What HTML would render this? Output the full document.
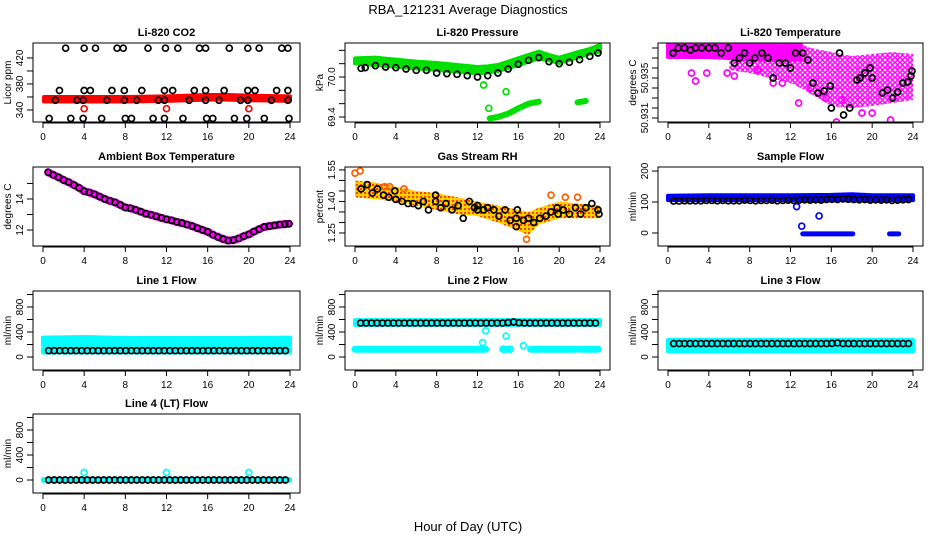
<!DOCTYPE html>
<html><head><meta charset="utf-8"><style>
html,body{margin:0;padding:0;background:#fff}
svg{display:block;font-family:"Liberation Sans",sans-serif}
</style></head><body>
<svg id="c" width="936" height="540" viewBox="0 0 936 540" xmlns="http://www.w3.org/2000/svg">
<defs>
<pattern id="magpat" width="5" height="5" patternUnits="userSpaceOnUse"><circle cx="2.5" cy="2.5" r="1.8" fill="none" stroke="#ff00ff" stroke-width="1.5"/></pattern>
<pattern id="rhpat" width="4" height="4" patternUnits="userSpaceOnUse"><rect width="4" height="4" fill="#ffd000"/><rect width="2" height="2" fill="#ff4000"/></pattern>
</defs>
<text x="468" y="14" text-anchor="middle" font-size="13">RBA_121231  Average Diagnostics</text>
<text x="468" y="531" text-anchor="middle" font-size="13">Hour of Day (UTC)</text>
</svg>
<script>
// ---------- data ----------
const xTicks=[0,4,8,12,16,20,24];
// CO2
const co2BandHours=[0.1,4,8,12,16,18,20,24];
const co2BandLo=[353,353,353,354,356,356,355,354];
const co2BandHi=[360,360,360,361,363,363,362,361];
const co2BlackHours=[2.2,4.0,5.1,7.2,7.8,10.2,11.9,13.1,15.2,15.8,18.1,19.9,21.0,23.2,23.8,
 1.6,4.0,4.6,6.7,7.9,9.6,11.8,12.6,14.7,15.8,17.6,19.9,20.6,22.7,23.8,
 1.2,3.3,3.9,6.2,7.9,9.1,11.2,11.8,14.2,15.8,17.1,19.2,19.9,22.2,23.8,
 0.6,2.7,3.9,5.7,8.0,8.6,10.7,11.8,13.6,15.9,16.5,18.6,19.8,21.5,23.9];
const co2BlackVals=[435,435,435,435,435,435,435,435,435,435,435,435,435,435,435,
 370,370,370,370,370,370,370,370,370,370,370,370,370,370,370,
 355,355,355,355,355,355,355,355,355,355,355,355,355,355,355,
 327,327,327,327,327,327,327,327,327,327,327,327,327,327,327];
const co2RedHours=[4,12,20];
const co2RedVals=[342,342,342];
// Pressure
const prBandHours=[0,2,4,6,8,10,12,13,14,16,18,19,20,22,23,24];
const prBandHi=[70.28,70.29,70.26,70.23,70.21,70.18,70.15,70.16,70.18,70.28,70.38,70.33,70.29,70.38,70.42,70.48];
const prBandLo=[70.205,70.18,70.155,70.13,70.105,70.08,70.055,70.07,70.09,70.18,70.28,70.25,70.21,70.3,70.35,70.38];
const prBlackHours=[0.6,1,2,3,4,5,6,7,8,9,10,11,12,13,14,15,16,17,18,19,20,21,22,23,23.8];
const prBlackVals=[70.13,70.14,70.17,70.15,70.14,70.12,70.1,70.1,70.06,70.05,70.04,70.02,70.0,70.02,70.06,70.12,70.19,70.25,70.29,70.23,70.2,70.22,70.26,70.31,70.36];
const prLowHours=[13.2,14,15,16,17,18];
const prLowVals=[69.38,69.4,69.45,69.53,69.6,69.63];
const prLow2Hours=[21.8,22.6];
const prLow2Vals=[69.62,69.64];
const prOutHours=[12.6,13.1,14.8];
const prOutVals=[69.88,69.53,69.78];
// Li-820 temperature
const tSolidHours=[0,4,8,10,12,13];
const tSolidHi=[50.9386,50.9386,50.9386,50.9386,50.9386,50.9386];
const tSolidLo=[50.9371,50.9371,50.9369,50.9368,50.9368,50.9369];
const tScatHours=[6,8,10,12,13,14,16,18,20,22,24];
const tScatHi=[50.9378,50.9378,50.9378,50.9384,50.9384,50.9380,50.9376,50.9372,50.9374,50.9376,50.9374];
const tScatLo=[50.9358,50.9355,50.9350,50.9345,50.9340,50.9334,50.9322,50.9320,50.9322,50.9325,50.9328];
const tMagHours=[2.7,12.8,16.5,21.8,19,20,2.3,3.8,5.8,6.5,8.8,10.3,11.2,14,15.5,17];
const tMagVals=[50.9347,50.9325,50.9306,50.9308,50.9315,50.9315,50.9355,50.9355,50.9355,50.9352,50.9358,50.9345,50.9345,50.9340,50.9330,50.9328];
const tBlackHours=[0.5,1,1.6,2.2,2.7,3.3,4,4.6,5.2,5.9,6.5,7,7.5,8,8.5,9.2,9.8,10.3,10.9,11.5,12,12.5,13.2,13.7,14.2,14.7,15.3,15.9,16,16.8,17.2,17.8,18.5,18.8,19.3,19.8,20,21,21.5,22,22.5,23,23.5,23.8,23.9];
const tBlackVals=[50.9375,50.938,50.938,50.9378,50.938,50.938,50.938,50.938,50.9375,50.938,50.9365,50.937,50.9375,50.9365,50.937,50.9375,50.937,50.935,50.9365,50.9365,50.936,50.9375,50.9375,50.9368,50.9345,50.9335,50.9337,50.9342,50.932,50.9375,50.9313,50.932,50.9348,50.935,50.9355,50.936,50.935,50.9335,50.9338,50.933,50.9336,50.9345,50.9346,50.9352,50.9357];
// Ambient box temperature
const ambHours=[0.5,1,1.5,2,2.5,3,3.5,4,4.5,5,5.5,6,6.5,7,7.5,8,8.5,9,9.5,10,10.5,11,11.5,12,12.5,13,13.5,14,14.5,15,15.5,16,16.5,17,17.5,18,18.5,19,19.5,20,20.5,21,21.5,22,22.5,23,23.5,23.9];
const ambVals=[15.72,15.55,15.4,15.22,15.08,14.9,14.72,14.5,14.42,14.3,14.15,14.0,13.88,13.78,13.62,13.45,13.4,13.3,13.18,13.05,12.98,12.88,12.78,12.69,12.62,12.52,12.45,12.35,12.25,12.12,12.0,11.89,11.7,11.55,11.42,11.32,11.35,11.45,11.6,11.72,11.9,12.05,12.2,12.25,12.3,12.35,12.38,12.4];
// Gas stream RH
const rhBandHours=[0,2,4,6,8,10,12,14,16,17,18,20,22,24];
const rhBandHi=[1.50,1.49,1.47,1.45,1.44,1.42,1.40,1.38,1.36,1.35,1.37,1.40,1.39,1.38];
const rhBandLo=[1.42,1.41,1.40,1.38,1.36,1.34,1.33,1.30,1.26,1.24,1.29,1.32,1.32,1.32];
const rhOutHours=[0,0.5,16.8,19.2,20.6,21.8,2.9,3.4,4.8];
const rhOutVals=[1.535,1.545,1.22,1.43,1.42,1.42,1.47,1.47,1.46];
const rhBlackHours=[0.6,1.2,1.7,2.2,2.8,3.3,3.9,4.0,4.6,5.2,5.7,6.2,6.7,7.2,7.9,7.9,8.4,8.9,9.5,10.1,10.6,11.2,11.7,12,12,12.6,13,13.6,14.1,14.7,15.2,15.8,15.9,15.8,16.5,17,17.5,18.1,18.7,19.2,19.8,19.9,20.4,21,21.6,22.1,22.6,23.2,23.8,23.9];
const rhBlackVals=[1.46,1.48,1.44,1.46,1.43,1.42,1.45,1.41,1.40,1.39,1.39,1.38,1.40,1.36,1.40,1.43,1.37,1.39,1.36,1.38,1.32,1.40,1.37,1.38,1.36,1.36,1.37,1.36,1.33,1.36,1.31,1.32,1.36,1.28,1.31,1.32,1.30,1.32,1.33,1.35,1.37,1.34,1.36,1.34,1.37,1.34,1.37,1.39,1.36,1.34];
// Sample flow
const sfBandHours=[0,4,8,12,16,18,20,24];
const sfBandHi=[120,122,122,122,123,125,122,122];
const sfBandLo=[106,106,106,106,106,106,106,106];
const sfLowHours=[13.2,18.1];
const sfLowVals=[-3,-3];
const sfLow2Hours=[21.7,22.6];
const sfLow2Vals=[-3,-3];
const sfOutHours=[12.6,13.1,14.8];
const sfOutVals=[85,22,55];
// black-circle series at ~half-hour cadence (44 samples)
const sfBlack=[103,103,104,104,104,104,105,105,104,105,104,104,104,106,105,104,105,105,106,104,105,106,105,106,107,106,107,106,108,109,108,110,109,108,107,108,106,107,106,107,105,106,107,108];
const l1Black=[101,101,101,101,101,101,101,101,101,101,101,101,101,101,101,101,101,101,101,101,101,101,101,101,101,101,101,101,101,101,101,101,101,101,101,101,101,101,101,101,101,101,101,101];
const l2Black=[543,543,543,543,543,543,543,543,543,543,543,543,543,543,543,543,543,543,543,543,543,543,543,543,543,543,543,550,560,548,543,543,543,543,543,543,543,543,543,543,543,543,543,543];
const l3Black=[215,215,215,215,215,215,215,215,215,215,215,215,215,215,215,215,215,215,215,215,215,215,215,215,215,215,215,215,215,218,225,215,215,215,215,215,215,215,215,215,215,215,215,215];
const l4Black=[0,0,0,0,0,0,0,0,0,0,0,0,0,0,0,0,0,0,0,0,0,0,0,0,0,0,0,0,0,0,0,0,0,0,0,0,0,0,0,0,0,0,0,0];
// Line flows (cyan)
const l1UpHours=[0,4,8,12,16,20,24];
const l1UpHi=[310,320,305,305,305,305,310];
const l1UpLo=[195,195,195,195,195,195,195];
const l1LowHours=[0,24];
const l1LowHi=[135,135];
const l1LowLo=[72,72];
const l2UpHours=[0,24];
const l2UpHi=[590,590];
const l2UpLo=[515,515];
const l2LowHours=[0,12.8,14.5,15.0,17.2,21.7,22.1,23.8];
const l2LowVals=[125,125,125,125,125,125,125,125];
const l2OutHours=[12.5,12.8,14.8,16.5,14.5,15.2];
const l2OutVals=[230,420,335,180,125,125];
const l3BandHours=[0,24];
const l3BandHi=[275,275];
const l3BandLo=[90,90];
const l4BandHours=[0,24];
const l4BandHi=[15,15];
const l4BandLo=[-10,-10];
const l4OutHours=[4,12,20];
const l4OutVals=[120,120,120];

// ---------- layout / helpers ----------
const NS='http://www.w3.org/2000/svg';
const svg=document.getElementById('c');
const COLL=[33,345,658], COLR=[300,610,923], ROWT=[43,167,291,414], PH=79;
function mk(tag,attrs,parent){const e=document.createElementNS(NS,tag);for(const k in attrs)e.setAttribute(k,attrs[k]);(parent||svg).appendChild(e);return e;}
function makePanel(col,row,title,ylab,ymin,ymax,ticks,labels,name){
  const L=COLL[col],R=COLR[col],T=ROWT[row],B=T+PH;
  const g=mk('g',{});
  
  
  const p={g,L,R,T,B,
    x:h=>L+10+h*(R-L-20)/24,
    y:v=>B-(v-ymin)/(ymax-ymin)*(B-T)};
  const clip=mk('clipPath',{id:'clip-'+name},g);
  mk('rect',{x:L,y:T,width:R-L,height:B-T},clip);
  p.plot=mk('g',{'clip-path':'url(#clip-'+name+')'},g);
  
  
  const t=mk('text',{x:(L+R)/2,y:T-7,'text-anchor':'middle','font-size':11,'font-weight':'bold'},g);
  t.textContent=title;
  
  
  const xa=mk('g',{},g);
  
  
  mk('line',{x1:p.x(0),x2:p.x(24),y1:B+1,y2:B+1,stroke:'#000'},xa);
  xTicks.forEach(v=>{
    mk('line',{x1:p.x(v),x2:p.x(v),y1:B,y2:B+6,stroke:'#000'},xa);
    const tx=mk('text',{x:p.x(v),y:B+18,'text-anchor':'middle','font-size':10},xa);
    tx.textContent=v;
  });
  const ya=mk('g',{},g);
  
  
  ticks.forEach(v=>{
    mk('line',{x1:L-6,x2:L,y1:p.y(v),y2:p.y(v),stroke:'#000'},ya);
  });
  labels.forEach(v=>{
    const yy=p.y(+v);
    const tx=mk('text',{x:L-10,y:yy,'text-anchor':'middle','font-size':10,transform:`rotate(-90 ${L-10} ${yy})`},ya);
    tx.textContent=v;
  });
  const yl=mk('text',{x:L-22,y:(T+B)/2,'text-anchor':'middle','font-size':10,transform:`rotate(-90 ${L-22} ${(T+B)/2})`},g);
  yl.textContent=ylab;
  
  
  p.frame=()=>{const f=mk('rect',{x:L,y:T,width:R-L,height:B-T,fill:'none',stroke:'#000','stroke-width':1},g);
    
    };
  return p;
}
function band(p,hours,hi,lo,fill,name){
  const pts=hours.map((h,i)=>p.x(h)+','+p.y(hi[i])).concat(hours.map((h,i)=>p.x(h)+','+p.y(lo[i])).reverse());
  const e=mk('polygon',{points:pts.join(' '),fill:fill,stroke:fill.startsWith('url')?'none':fill,'stroke-width':4,'stroke-linejoin':'round'},p.plot);
  
  
}
function line(p,hours,vals,color,w,name){
  const e=mk('polyline',{points:hours.map((h,i)=>p.x(h)+','+p.y(vals[i])).join(' '),fill:'none',stroke:color,'stroke-width':w,'stroke-linecap':'round','stroke-linejoin':'round'},p.plot);
  
  
}
function pts(p,hours,vals,color,name){
  const g=mk('g',{},p.plot);
  
  
  hours.forEach((h,i)=>{
    const c=mk('circle',{cx:p.x(h),cy:p.y(vals[i]),r:3,fill:'none',stroke:color,'stroke-width':1.7},g);
    
    
  });
}
const H44=[];for(let i=0;i<44;i++)H44.push(0.55+i*0.535);

// ---------- panels ----------
let p;
p=makePanel(0,0,'Li-820 CO2','Licor ppm',321.5,443,[340,360,380,400,420],['340','380','420'],'co2');
band(p,co2BandHours,co2BandHi,co2BandLo,'#ff0000','co2-red-band');
pts(p,co2RedHours,co2RedVals,'#ff0000','co2-red-points');
pts(p,co2BlackHours,co2BlackVals,'#000','co2-black-points');p.frame();

p=makePanel(1,0,'Li-820 Pressure','kPa',69.325,70.51,[69.4,69.6,69.8,70.0,70.2,70.4],['69.4','70.0'],'pressure');
band(p,prBandHours,prBandHi,prBandLo,'#00e000','pressure-green-band');
line(p,prLowHours,prLowVals,'#00e000',6,'pressure-low-branch');
line(p,prLow2Hours,prLow2Vals,'#00e000',6,'pressure-low-branch-2');
pts(p,prOutHours,prOutVals,'#00e000','pressure-green-outliers');
pts(p,prBlackHours,prBlackVals,'#000','pressure-black-points');p.frame();

p=makePanel(2,0,'Li-820 Temperature','degrees C',50.9306,50.9385,[50.931,50.932,50.933,50.934,50.935,50.936,50.937,50.938],['50.931','50.935'],'temperature');
band(p,tScatHours,tScatHi,tScatLo,'url(#magpat)','temperature-scatter-band');
band(p,tSolidHours,tSolidHi,tSolidLo,'#ff00ff','temperature-solid-band');
pts(p,tMagHours,tMagVals,'#ff00ff','temperature-magenta-points');
pts(p,tBlackHours,tBlackVals,'#000','temperature-black-points');p.frame();

p=makePanel(0,1,'Ambient Box Temperature','degrees C',10.97,16.06,[12,13,14,15],['12','14'],'ambient');
line(p,ambHours,ambVals,'#ff00ff',8,'ambient-magenta-line');
pts(p,ambHours,ambVals,'#000','ambient-black-points');p.frame();

p=makePanel(1,1,'Gas Stream RH','percent',1.188,1.564,[1.25,1.30,1.35,1.40,1.45,1.50,1.55],['1.25','1.40','1.55'],'rh');
band(p,rhBandHours,rhBandHi,rhBandLo,'url(#rhpat)','rh-band');
pts(p,rhOutHours,rhOutVals,'#ff6000','rh-outliers');
pts(p,rhBlackHours,rhBlackVals,'#000','rh-black-points');p.frame();

p=makePanel(2,1,'Sample Flow','ml/min',-42,213,[0,100,200],['0','100','200'],'sample-flow');
band(p,sfBandHours,sfBandHi,sfBandLo,'#0000ff','sample-flow-blue-band');
line(p,sfLowHours,sfLowVals,'#0000ff',5,'sample-flow-low');
line(p,sfLow2Hours,sfLow2Vals,'#0000ff',5,'sample-flow-low-2');
pts(p,sfOutHours,sfOutVals,'#0000ff','sample-flow-outliers');
pts(p,H44,sfBlack,'#000','sample-flow-black-points');p.frame();

const fT=[0,200,400,600,800,1000], fL=['0','400','800'];
p=makePanel(0,2,'Line 1 Flow','ml/min',-208,1056,fT,fL,'line1');
band(p,l1UpHours,l1UpHi,l1UpLo,'#00ffff','line1-upper-band');
band(p,l1LowHours,l1LowHi,l1LowLo,'#00ffff','line1-lower-band');
pts(p,H44,l1Black,'#000','line1-black-points');p.frame();

p=makePanel(1,2,'Line 2 Flow','ml/min',-208,1056,fT,fL,'line2');
band(p,l2UpHours,l2UpHi,l2UpLo,'#00ffff','line2-upper-band');
for(let i=0;i<l2LowHours.length;i+=2){line(p,l2LowHours.slice(i,i+2),l2LowVals.slice(i,i+2),'#00ffff',7,'line2-lower-segment');}
pts(p,l2OutHours,l2OutVals,'#00ffff','line2-outliers');
pts(p,H44,l2Black,'#000','line2-black-points');p.frame();

p=makePanel(2,2,'Line 3 Flow','ml/min',-208,1056,fT,fL,'line3');
band(p,l3BandHours,l3BandHi,l3BandLo,'#00ffff','line3-band');
pts(p,H44,l3Black,'#000','line3-black-points');p.frame();

p=makePanel(0,3,'Line 4 (LT) Flow','ml/min',-208,1056,fT,fL,'line4');
band(p,l4BandHours,l4BandHi,l4BandLo,'#00ffff','line4-band');
pts(p,l4OutHours,l4OutVals,'#00ffff','line4-outliers');
pts(p,H44,l4Black,'#000','line4-black-points');p.frame();
</script>
</body></html>
